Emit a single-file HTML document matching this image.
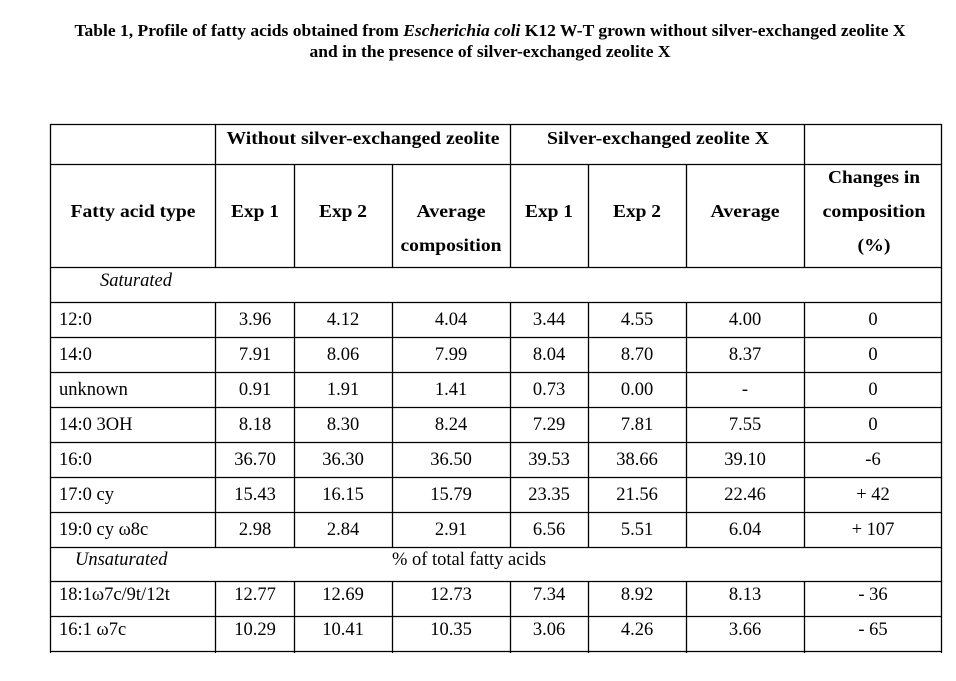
<!DOCTYPE html>
<html><head><meta charset="utf-8"><style>
html,body{margin:0;padding:0;background:#fff;}
svg{display:block;font-family:"Liberation Serif",serif;}
.b{font-weight:bold;}
</style></head><body>
<svg width="956" height="681" viewBox="0 0 956 681" xmlns="http://www.w3.org/2000/svg">
<g class="b" font-size="17" text-anchor="middle" fill="#000">
<text x="490" y="36" textLength="831" lengthAdjust="spacingAndGlyphs">Table 1, Profile of fatty acids obtained from <tspan font-style="italic">Escherichia coli</tspan> K12 W-T grown without silver-exchanged zeolite X</text>
<text x="490" y="57" textLength="361" lengthAdjust="spacingAndGlyphs">and in the presence of silver-exchanged zeolite X</text>
</g>
<g stroke="#000" stroke-width="1.3" fill="none">
<line x1="50" y1="124.5" x2="942" y2="124.5"/>
<line x1="50" y1="164.5" x2="942" y2="164.5"/>
<line x1="50" y1="267.5" x2="942" y2="267.5"/>
<line x1="50" y1="302.5" x2="942" y2="302.5"/>
<line x1="50" y1="337.5" x2="942" y2="337.5"/>
<line x1="50" y1="372.5" x2="942" y2="372.5"/>
<line x1="50" y1="407.5" x2="942" y2="407.5"/>
<line x1="50" y1="442.5" x2="942" y2="442.5"/>
<line x1="50" y1="477.5" x2="942" y2="477.5"/>
<line x1="50" y1="512.5" x2="942" y2="512.5"/>
<line x1="50" y1="547.5" x2="942" y2="547.5"/>
<line x1="50" y1="581.5" x2="942" y2="581.5"/>
<line x1="50" y1="616.5" x2="942" y2="616.5"/>
<line x1="50" y1="651.5" x2="942" y2="651.5"/>
<line x1="50.5" y1="124" x2="50.5" y2="653"/>
<line x1="941.5" y1="124" x2="941.5" y2="653"/>
<line x1="215.5" y1="124" x2="215.5" y2="267"/>
<line x1="510.5" y1="124" x2="510.5" y2="267"/>
<line x1="804.5" y1="124" x2="804.5" y2="267"/>
<line x1="294.5" y1="164" x2="294.5" y2="267"/>
<line x1="392.5" y1="164" x2="392.5" y2="267"/>
<line x1="588.5" y1="164" x2="588.5" y2="267"/>
<line x1="686.5" y1="164" x2="686.5" y2="267"/>
<g>
<line x1="215.5" y1="302" x2="215.5" y2="547"/><line x1="294.5" y1="302" x2="294.5" y2="547"/><line x1="392.5" y1="302" x2="392.5" y2="547"/><line x1="510.5" y1="302" x2="510.5" y2="547"/><line x1="588.5" y1="302" x2="588.5" y2="547"/><line x1="686.5" y1="302" x2="686.5" y2="547"/><line x1="804.5" y1="302" x2="804.5" y2="547"/>
<line x1="215.5" y1="581" x2="215.5" y2="653"/><line x1="294.5" y1="581" x2="294.5" y2="653"/><line x1="392.5" y1="581" x2="392.5" y2="653"/><line x1="510.5" y1="581" x2="510.5" y2="653"/><line x1="588.5" y1="581" x2="588.5" y2="653"/><line x1="686.5" y1="581" x2="686.5" y2="653"/><line x1="804.5" y1="581" x2="804.5" y2="653"/>
</g>
</g>
<g class="b" font-size="18" text-anchor="middle" fill="#000">
<text x="363" y="144" textLength="273" lengthAdjust="spacingAndGlyphs">Without silver-exchanged zeolite</text>
<text x="658" y="144" textLength="222" lengthAdjust="spacingAndGlyphs">Silver-exchanged zeolite X</text>
<text x="133" y="217" textLength="125" lengthAdjust="spacingAndGlyphs">Fatty acid type</text>
<text x="255" y="217" textLength="48" lengthAdjust="spacingAndGlyphs">Exp 1</text>
<text x="343" y="217" textLength="48" lengthAdjust="spacingAndGlyphs">Exp 2</text>
<text x="451" y="217" textLength="69" lengthAdjust="spacingAndGlyphs">Average</text>
<text x="451" y="251" textLength="101" lengthAdjust="spacingAndGlyphs">composition</text>
<text x="549" y="217" textLength="48" lengthAdjust="spacingAndGlyphs">Exp 1</text>
<text x="637" y="217" textLength="48" lengthAdjust="spacingAndGlyphs">Exp 2</text>
<text x="745" y="217" textLength="69" lengthAdjust="spacingAndGlyphs">Average</text>
<text x="874" y="183" textLength="92" lengthAdjust="spacingAndGlyphs">Changes in</text>
<text x="874" y="217" textLength="103" lengthAdjust="spacingAndGlyphs">composition</text>
<text x="874" y="251" textLength="33" lengthAdjust="spacingAndGlyphs">(%)</text>
</g>
<g font-size="18.5" fill="#000">
<text x="100" y="286" font-style="italic">Saturated</text>
<text x="75" y="565" font-style="italic">Unsaturated</text>
<text x="469" y="565" text-anchor="middle">% of total fatty acids</text>
<g>
<text x="59" y="325">12:0</text>
<text x="59" y="360">14:0</text>
<text x="59" y="395">unknown</text>
<text x="59" y="430">14:0 3OH</text>
<text x="59" y="465">16:0</text>
<text x="59" y="500">17:0 cy</text>
<text x="59" y="535">19:0 cy ω8c</text>
<text x="59" y="600">18:1ω7c/9t/12t</text>
<text x="59" y="635">16:1 ω7c</text>
</g>
<g text-anchor="middle">
<text x="255" y="325">3.96</text><text x="343" y="325">4.12</text><text x="451" y="325">4.04</text><text x="549" y="325">3.44</text><text x="637" y="325">4.55</text><text x="745" y="325">4.00</text><text x="873" y="325">0</text>
<text x="255" y="360">7.91</text><text x="343" y="360">8.06</text><text x="451" y="360">7.99</text><text x="549" y="360">8.04</text><text x="637" y="360">8.70</text><text x="745" y="360">8.37</text><text x="873" y="360">0</text>
<text x="255" y="395">0.91</text><text x="343" y="395">1.91</text><text x="451" y="395">1.41</text><text x="549" y="395">0.73</text><text x="637" y="395">0.00</text><text x="745" y="395">-</text><text x="873" y="395">0</text>
<text x="255" y="430">8.18</text><text x="343" y="430">8.30</text><text x="451" y="430">8.24</text><text x="549" y="430">7.29</text><text x="637" y="430">7.81</text><text x="745" y="430">7.55</text><text x="873" y="430">0</text>
<text x="255" y="465">36.70</text><text x="343" y="465">36.30</text><text x="451" y="465">36.50</text><text x="549" y="465">39.53</text><text x="637" y="465">38.66</text><text x="745" y="465">39.10</text><text x="873" y="465">-6</text>
<text x="255" y="500">15.43</text><text x="343" y="500">16.15</text><text x="451" y="500">15.79</text><text x="549" y="500">23.35</text><text x="637" y="500">21.56</text><text x="745" y="500">22.46</text><text x="873" y="500">+ 42</text>
<text x="255" y="535">2.98</text><text x="343" y="535">2.84</text><text x="451" y="535">2.91</text><text x="549" y="535">6.56</text><text x="637" y="535">5.51</text><text x="745" y="535">6.04</text><text x="873" y="535">+ 107</text>
<text x="255" y="600">12.77</text><text x="343" y="600">12.69</text><text x="451" y="600">12.73</text><text x="549" y="600">7.34</text><text x="637" y="600">8.92</text><text x="745" y="600">8.13</text><text x="873" y="600">- 36</text>
<text x="255" y="635">10.29</text><text x="343" y="635">10.41</text><text x="451" y="635">10.35</text><text x="549" y="635">3.06</text><text x="637" y="635">4.26</text><text x="745" y="635">3.66</text><text x="873" y="635">- 65</text>
</g>
</g>
</svg>
</body></html>
